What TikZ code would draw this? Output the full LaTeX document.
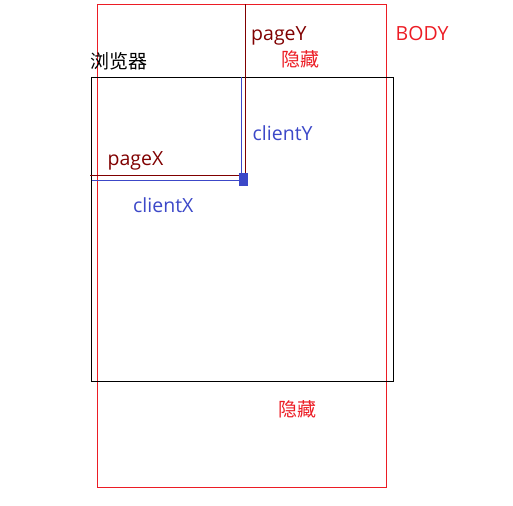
\documentclass[tikz,border=0pt]{standalone}
\usepackage{fontspec}
\setmainfont{Open Sans}
\newfontfamily\cjk{Noto Sans CJK SC}
\definecolor{bodyred}{RGB}{236,28,36}
\definecolor{pagered}{RGB}{128,0,0}
\definecolor{clientblue}{RGB}{60,72,200}
\begin{document}
\begin{tikzpicture}[x=1pt,y=-1pt,
  lat/.style={inner sep=0pt,anchor=base west,font=\fontsize{19.5}{20}\selectfont},
  han/.style={inner sep=0pt,anchor=west,font=\cjk\fontsize{19}{20}\selectfont},
  box/.style={draw,inner sep=0pt,fill=none},
  pointer/.style={inner sep=0pt,fill=clientblue,minimum width=9pt,minimum height=13pt}]
\useasboundingbox (0,0) rectangle (513,505);
% BODY rectangle
\node[box,draw=bodyred,line width=1pt,minimum width=289pt,minimum height=482.5pt] (body) at (241.75,245.75) {};
% browser rectangle
\node[box,draw=black,line width=1.2pt,minimum width=301.5pt,minimum height=303.5pt] (browser) at (242.5,229.5) {};
% pointer position and connector free ends
\coordinate (ptrc) at (243.5,179.5);
\coordinate (pyTop) at (245.7,4.5);
\coordinate (pxLeft) at (90,175.3);
\coordinate (cyTop) at (241.7,77.5);
\coordinate (cxLeft) at (91.7,180.3);
\draw[pagered,line width=1pt] (pyTop) -- (pyTop |- ptrc);
\draw[pagered,line width=1pt] (pxLeft) -- (pxLeft -| ptrc);
\draw[clientblue,line width=1pt] (cyTop) -- (cyTop |- ptrc);
\draw[clientblue,line width=1pt] (cxLeft) -- (cxLeft -| ptrc);
\node[pointer] (ptr) at (ptrc) {};
% labels
\node[han,text=black] (lblBrowser) at (90.5,61) {浏览器};
\node[lat,text=pagered] (lblPageY) at (251,40.7) {pageY};
\node[han,text=bodyred] (lblHideTop) at (281,59) {隐藏};
\node[lat,text=bodyred] (lblBody) at (395.5,40.7) {BODY};
\node[lat,text=clientblue] (lblClientY) at (252.5,140.7) {clientY};
\node[lat,text=pagered] (lblPageX) at (107.5,165) {pageX};
\node[lat,text=clientblue] (lblClientX) at (133,212.7) {clientX};
\node[han,text=bodyred] (lblHideBot) at (278,409) {隐藏};
\end{tikzpicture}
\end{document}
